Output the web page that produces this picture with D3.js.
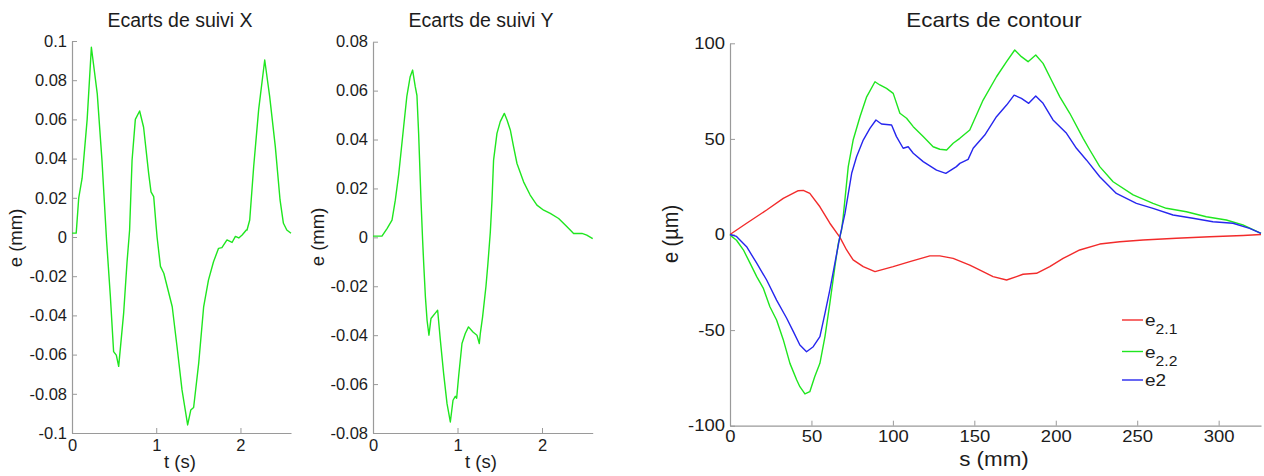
<!DOCTYPE html>
<html>
<head>
<meta charset="utf-8">
<script src="https://cdn.jsdelivr.net/npm/d3@7/dist/d3.min.js"></script>
<style>
  html, body { margin: 0; padding: 0; background: #fff; }
  svg { display: block; font-family: "Liberation Sans", Arial, sans-serif; }
</style>
</head>
<body>
<svg id="chart" width="1264" height="476"></svg>
<script>
// ---------- DATA ----------
const suiviX = [[0,0.002],[0.05,0.002],[0.08,0.02],[0.12,0.03],[0.18,0.06],[0.23,0.0968],[0.30,0.073],[0.356,0.039],[0.41,-0.0015],[0.455,-0.030],[0.494,-0.0585],[0.526,-0.0603],[0.554,-0.066],[0.613,-0.039],[0.653,-0.013],[0.684,0.0036],[0.713,0.039],[0.752,0.06],[0.803,0.0643],[0.85,0.056],[0.91,0.0325],[0.938,0.023],[0.97,0.0206],[1.0,0.005],[1.01,0],[1.05,-0.015],[1.09,-0.0185],[1.19,-0.0356],[1.247,-0.056],[1.306,-0.078],[1.373,-0.0959],[1.41,-0.0883],[1.444,-0.087],[1.504,-0.0645],[1.563,-0.0356],[1.62,-0.022],[1.68,-0.0126],[1.74,-0.0058],[1.78,-0.0054],[1.84,-0.0015],[1.90,-0.0028],[1.94,0.0003],[1.98,-0.0005],[2.02,0.001],[2.07,0.0036],[2.078,0.0036],[2.11,0.0087],[2.157,0.036],[2.216,0.065],[2.288,0.0903],[2.347,0.0716],[2.414,0.046],[2.47,0.0189],[2.51,0.007],[2.55,0.0036],[2.60,0.0019]];

const suiviY = [[0,0.0005],[0.106,0.0005],[0.166,0.0036],[0.225,0.007],[0.264,0.0152],[0.305,0.026],[0.362,0.045],[0.40,0.0575],[0.44,0.0657],[0.469,0.0684],[0.50,0.0616],[0.52,0.058],[0.54,0.0425],[0.568,0.0152],[0.587,-0.001],[0.60,-0.0107],[0.62,-0.0243],[0.64,-0.034],[0.662,-0.040],[0.686,-0.0332],[0.737,-0.031],[0.765,-0.0298],[0.797,-0.042],[0.836,-0.0557],[0.876,-0.068],[0.915,-0.0755],[0.947,-0.0666],[0.974,-0.065],[0.99,-0.0658],[1.013,-0.057],[1.053,-0.0434],[1.092,-0.0393],[1.13,-0.0366],[1.183,-0.0387],[1.23,-0.040],[1.258,-0.0434],[1.27,-0.0393],[1.297,-0.0325],[1.337,-0.020],[1.36,-0.0107],[1.388,0.002],[1.408,0.015],[1.427,0.0316],[1.467,0.0425],[1.506,0.0473],[1.554,0.0507],[1.586,0.048],[1.625,0.0439],[1.664,0.037],[1.704,0.0302],[1.782,0.0227],[1.86,0.0173],[1.94,0.0132],[2.02,0.0111],[2.098,0.0098],[2.197,0.0077],[2.296,0.0043],[2.374,0.0016],[2.473,0.0016],[2.53,0.0009],[2.60,-0.0005]];

const e21 = [[0,0],[10.2,5.9],[22.5,12.8],[32.7,18.9],[41.9,22.9],[45,23.1],[49,21.5],[55.2,14.5],[61.3,5.9],[67.5,-1.5],[71.6,-8.1],[75.6,-13.3],[81.8,-16.8],[89,-19.4],[100.2,-16.8],[110.4,-14.2],[122.7,-11.2],[128.8,-11.2],[137,-12.5],[147.2,-16],[151.3,-17.7],[161.5,-22],[169.8,-23.8],[175.9,-22],[179.9,-20.8],[188.2,-20.3],[196.3,-16.8],[204.5,-12.5],[214.7,-8.1],[227,-5],[239.3,-3.8],[253.6,-2.9],[274,-2],[294.5,-1.2],[315,-0.5],[326,0]];

const e22 = [[0,0],[1,-1],[4,-3],[8.2,-8],[12.3,-15],[16.4,-22],[20.4,-28],[24.5,-37.8],[28.6,-44.7],[32.7,-55],[36.8,-67.4],[40.9,-76],[42.9,-79.6],[46,-83.4],[49,-82.2],[52,-74.4],[55.2,-67.4],[58.3,-53.4],[61.3,-36],[64.4,-16.8],[66.5,-4.6],[68.5,2.4],[69.5,9.3],[72.6,35.5],[75.6,49.4],[79.8,61.6],[83.9,72],[89,79.9],[92,78.2],[96.1,76.4],[100.2,73.8],[104.3,63.4],[108.4,60.8],[112.5,56.4],[118.6,51.2],[124.7,45.9],[128.8,44.6],[133,44.2],[137,47.7],[141.1,50.3],[147.2,54.7],[155.4,70.3],[163.6,82.5],[169.8,90.4],[174.8,96.5],[178.9,93],[183,90.4],[187.7,93.9],[192.2,89.5],[197.3,80.8],[202.5,72],[208.6,63.4],[216.8,50.3],[220.9,44.2],[227,35.5],[235.2,27.6],[247.5,20.7],[259.7,16.3],[267.9,13.7],[280.2,11.9],[292.4,9.3],[304.7,7.6],[314.9,5],[326,0.6]];

const e2 = [[0,0],[4,-1],[10.2,-6.4],[16.4,-15],[22.5,-23.8],[28.6,-34.3],[34.8,-43.8],[38.9,-50.8],[42.9,-57.8],[47,-61.3],[51.1,-58.7],[55.2,-53.4],[58.3,-41.2],[61.3,-29],[64.4,-15],[67.5,-1],[70.6,11],[74.7,32],[77.7,40.7],[81.8,49.4],[85.9,55.5],[89.6,59.9],[93,57.8],[99.2,57.3],[102.2,51.2],[106.3,45.1],[109.4,45.9],[112.5,42.5],[118.6,38.1],[126.8,33.7],[132.5,32],[139,35.5],[141.1,37.2],[146.2,39.3],[149.3,45.1],[156.4,52],[163.6,61.6],[169.8,67.7],[174.4,72.9],[178.9,71.2],[183.4,68.6],[187.7,72.4],[192.2,68.6],[198.3,59.9],[206.6,52.9],[212.7,45.1],[218.8,39],[227,30.2],[237.2,21.5],[249.5,16.3],[259.7,13.7],[272,10.2],[284.2,8.5],[296.5,6.7],[308.8,5.9],[319,3.2],[326,0.6]];

const tTicks = [0, 1, 2];
const yTicksX = [-0.1,-0.08,-0.06,-0.04,-0.02,0,0.02,0.04,0.06,0.08,0.1];
const yTicksY = [-0.08,-0.06,-0.04,-0.02,0,0.02,0.04,0.06,0.08];
const sTicks = [0,50,100,150,200,250,300];
const eTicks = [-100,-50,0,50,100];
const legendLabels = [["e","2.1"],["e","2.2"],["e2",""]];

// ---------- STYLE ----------
const AXIS = "#9a9a9a", TXT = "#1c1c1c";
const GREEN = "#1fe61f", RED = "#f22b2b", BLUE = "#2626ee";
const svg = d3.select("#chart");
const fmt = d => String(+(+d).toFixed(2));

function stretch(sel, sx) {
  sel.each(function() {
    const x = +(this.getAttribute("x") || 0);
    d3.select(this).attr("transform", `translate(${x},0) scale(${sx},1) translate(${-x},0)`);
  });
}

function panel(o) {
  const x = d3.scaleLinear().domain(o.xd).range(o.xr);
  const y = d3.scaleLinear().domain(o.yd).range(o.yr);
  const g = svg.append("g");
  const sx = o.sx || 1;

  const ya = g.append("g").attr("transform", `translate(${o.xr[0]},0)`)
    .call(d3.axisLeft(y).tickValues(o.yt).tickFormat(o.yf).tickSizeInner(-5).tickSizeOuter(0).tickPadding(5));
  const xa = g.append("g").attr("transform", `translate(0,${o.yr[0]})`)
    .call(d3.axisBottom(x).tickValues(o.xt).tickFormat(o.xf).tickSizeInner(-5).tickSizeOuter(0).tickPadding(5));
  [ya, xa].forEach(a => {
    a.select(".domain").attr("stroke", AXIS).attr("stroke-width", 1.2);
    a.selectAll(".tick line").attr("stroke", AXIS);
    a.selectAll(".tick text").attr("fill", TXT).style("font-size", o.tickFs + "px")
      .style("font-family", '"Liberation Sans", Arial, sans-serif');
  });
  xa.selectAll(".tick text").attr("y", o.xLabDy).attr("dy", "0.71em");
  if (sx !== 1) { stretch(ya.selectAll(".tick text"), sx); stretch(xa.selectAll(".tick text"), sx); }

  const line = d3.line().x(d => x(d[0])).y(d => y(d[1]));
  o.series.forEach(s => {
    g.append("path").datum(s.data).attr("d", line)
      .attr("fill", "none").attr("stroke", s.color).attr("stroke-width", 1.4)
      .attr("stroke-linejoin", "round");
  });

  const t = g.append("text").attr("x", o.title[1]).attr("y", o.title[2])
    .attr("text-anchor", "middle").attr("fill", TXT).style("font-size", o.titleFs + "px").text(o.title[0]);
  const xl = g.append("text").attr("x", o.xlab[1]).attr("y", o.xlab[2])
    .attr("text-anchor", "middle").attr("fill", TXT).style("font-size", o.labFs + "px").text(o.xlab[0]);
  const yl = g.append("text").attr("transform", `translate(${o.ylab[1]},${o.ylab[2]}) rotate(-90)`)
    .attr("text-anchor", "middle").attr("fill", TXT).style("font-size", o.labFs + "px").text(o.ylab[0]);
  if (sx !== 1) {
    stretch(t, sx); stretch(xl, sx);
    yl.attr("transform", `translate(${o.ylab[1]},${o.ylab[2]}) rotate(-90) scale(1,${sx})`);
  }
  return { x, y, g };
}

panel({
  xd: [0, 2.6], xr: [72, 291], yd: [-0.1, 0.1], yr: [433, 41],
  xt: tTicks, yt: yTicksX, xf: d => d, yf: fmt, xLabDy: 6,
  tickFs: 16.5, titleFs: 19.5, labFs: 18.5,
  title: ["Ecarts de suivi X", 180, 27], xlab: ["t (s)", 180, 468], ylab: ["e (mm)", 22, 238],
  series: [{ data: suiviX, color: GREEN }]
});

panel({
  xd: [0, 2.6], xr: [373, 592.7], yd: [-0.08, 0.08], yr: [433, 41.7],
  xt: tTicks, yt: yTicksY, xf: d => d, yf: fmt, xLabDy: 6,
  tickFs: 16.5, titleFs: 19.5, labFs: 18.5,
  title: ["Ecarts de suivi Y", 481, 27], xlab: ["t (s)", 481, 468], ylab: ["e (mm)", 324, 237],
  series: [{ data: suiviY, color: GREEN }]
});

const C = panel({
  xd: [0, 326], xr: [730, 1261], yd: [-100, 100], yr: [425.7, 43.3],
  xt: sTicks, yt: eTicks, xf: d => d, yf: d => d, xLabDy: 5, sx: 1.12,
  tickFs: 16.5, titleFs: 20, labFs: 20,
  title: ["Ecarts de contour", 994, 27], xlab: ["s (mm)", 994, 466], ylab: ["e (µm)", 678, 234],
  series: [{ data: e21, color: RED }, { data: e22, color: GREEN }, { data: e2, color: BLUE }]
});

// ---------- LEGEND ----------
const legColors = [RED, GREEN, BLUE];
const legY = [320, 351.5, 380];
const lg = svg.append("g");
legendLabels.forEach((l, i) => {
  lg.append("line").attr("x1", 1122).attr("x2", 1143).attr("y1", legY[i]).attr("y2", legY[i])
    .attr("stroke", legColors[i]).attr("stroke-width", 1.4);
  const tx = lg.append("text").attr("x", 1145).attr("y", legY[i] + 6.5)
    .attr("fill", TXT).style("font-size", "17px");
  tx.append("tspan").text(l[0]);
  if (l[1]) tx.append("tspan").attr("dy", 8).style("font-size", "14px").text(l[1]);
  stretch(tx, 1.12);
});
</script>
</body>
</html>
